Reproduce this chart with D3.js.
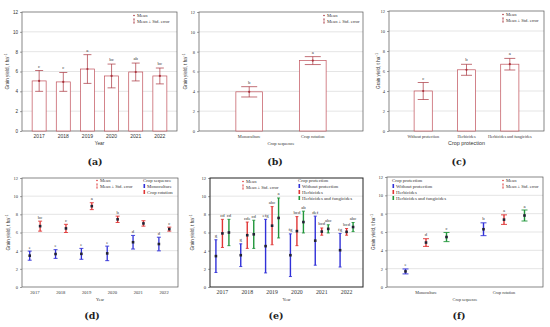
<!DOCTYPE html>
<html><head><meta charset="utf-8">
<script src="https://cdn.jsdelivr.net/npm/d3@7"></script>
<style>body{margin:0;background:#fff}svg{display:block}</style>
</head><body>
<svg id="c" width="550" height="327"></svg>
<script>
const yTicks = [0, 2, 4, 6, 8, 10, 12];
// (a) year
const years = ["2017", "2018", "2019", "2020", "2021", "2022"];
const aMean = [5.05, 4.95, 6.25, 5.55, 5.95, 5.55];
const aSE = [1.05, 0.95, 1.45, 1.2, 0.9, 0.8];
const aLetters = ["c", "c", "a", "bc", "ab", "bc"];
// (b) crop sequence
const seqCats = ["Monoculture", "Crop rotation"];
const bMean = [3.95, 7.1];
const bSE = [0.52, 0.4];
const bLetters = ["b", "a"];
// (c) crop protection
const protCats = ["Without protection", "Herbicides", "Herbicides and fungicides"];
const cMean = [4.0, 6.12, 6.68];
const cSE = [0.85, 0.55, 0.58];
const cLetters = ["c", "b", "a"];
// (d) year x crop sequence
const dMono = [3.45, 3.63, 3.65, 3.7, 4.93, 4.73];
const dMonoSE = [0.5, 0.48, 0.6, 0.8, 0.75, 0.75];
const dMonoLetters = ["e", "e", "e", "e", "d", "d"];
const dRot = [6.7, 6.45, 8.9, 7.45, 7.0, 6.37];
const dRotSE = [0.55, 0.45, 0.38, 0.35, 0.3, 0.22];
const dRotLetters = ["bc", "c", "a", "b", "", "c"];
// (e) year x crop protection
const eWP = [3.4, 3.5, 4.5, 3.5, 5.1, 4.05];
const eWPSE = [1.8, 1.25, 2.95, 2.35, 2.7, 1.85];
const eWPLetters = ["g", "g", "efg", "fg", "def", "fg"];
const eH = [5.9, 5.7, 6.75, 6.15, 6.1, 6.07];
const eHSE = [1.55, 1.45, 2.1, 1.6, 0.4, 0.37];
const eHLetters = ["cd", "cde", "abc", "bcd", "bcd", "bcd"];
const eHF = [6.0, 5.8, 7.6, 7.15, 6.4, 6.6];
const eHFSE = [1.45, 1.55, 2.2, 1.2, 0.45, 0.5];
const eHFLetters = ["cd", "cd", "a", "ab", "abc", "abc"];
// (f) crop sequence x crop protection
const fWP = [1.7, 6.3];
const fWPSE = [0.27, 0.7];
const fWPLetters = ["e", "b"];
const fH = [4.85, 7.35];
const fHSE = [0.42, 0.52];
const fHLetters = ["d", "a"];
const fHF = [5.45, 7.8];
const fHFSE = [0.5, 0.6];
const fHFLetters = ["c", "a"];

const svg = d3.select("#c");
const DARK = "#a8323c", BAR = "#c0505a";
const BLUE = "#3030d8", RED = "#e03535", GREEN = "#20963a";
const SERIF = "Liberation Serif, serif", SANS = "Liberation Sans, Arial, sans-serif";

function frame(g, P, yScale, opts) {
  g.selectAll(".grid").data(yTicks.filter(t => t > 0 && t < 12)).join("line")
    .attr("x1", P.x0).attr("x2", P.x1).attr("y1", d => yScale(d)).attr("y2", d => yScale(d))
    .attr("stroke", "#d4d4d4").attr("stroke-width", 0.6);
  const ax = g.append("g").attr("transform", `translate(${P.x0},0)`)
    .call(d3.axisLeft(yScale).tickValues(yTicks).tickSize(2).tickPadding(2).tickFormat(opts.tickFmt || d3.format("d")));
  ax.select(".domain").remove();
  ax.selectAll("line").attr("stroke", "#444").attr("stroke-width", 0.5);
  ax.selectAll("text").attr("font-family", opts.tickFont || SERIF).attr("font-size", opts.tickSize || 4.5).attr("fill", "#333");
  g.append("rect").attr("x", P.x0).attr("y", P.y0).attr("width", P.x1 - P.x0).attr("height", P.y1 - P.y0)
    .attr("fill", "none").attr("stroke", opts.frameColor || "#555").attr("stroke-width", opts.frameW || 0.7);
  const yt = g.append("text").attr("transform", `translate(${opts.ytx},${(P.y0 + P.y1) / 2}) rotate(-90)`)
    .attr("text-anchor", "middle").attr("font-family", opts.ytFont || SANS).attr("font-size", opts.ytSize || 4.6).attr("fill", "#333");
  yt.append("tspan").text("Grain yield, t ha");
  yt.append("tspan").text("−1").attr("font-size", (opts.ytSize || 4.6) * 0.7).attr("dy", -2);
}

function xLabels(g, cats, xs, y, font, size) {
  g.selectAll(".xl").data(cats).join("text")
    .attr("x", (d, i) => xs(d, i)).attr("y", y).attr("text-anchor", "middle")
    .attr("font-family", font).attr("font-size", size).attr("fill", "#333").text(d => d);
}

function xTitle(g, text, x, y, font, size) {
  g.append("text").attr("x", x).attr("y", y).attr("text-anchor", "middle")
    .attr("font-family", font).attr("font-size", size).attr("fill", "#333").text(text);
}

function meanLegend(g, x, y, color) {
  g.append("circle").attr("cx", x).attr("cy", y - 1.5).attr("r", 0.8).attr("fill", color);
  g.append("text").attr("x", x + 3).attr("y", y).attr("font-family", SERIF).attr("font-size", 4.6).attr("fill", "#333").text("Mean");
  const yy = y + 6;
  g.append("line").attr("x1", x).attr("x2", x).attr("y1", yy - 4).attr("y2", yy).attr("stroke", color).attr("stroke-width", 0.6);
  g.append("line").attr("x1", x - 1).attr("x2", x + 1).attr("y1", yy - 4).attr("y2", yy - 4).attr("stroke", color).attr("stroke-width", 0.6);
  g.append("line").attr("x1", x - 1).attr("x2", x + 1).attr("y1", yy).attr("y2", yy).attr("stroke", color).attr("stroke-width", 0.6);
  g.append("text").attr("x", x + 3).attr("y", yy).attr("font-family", SERIF).attr("font-size", 4.6).attr("fill", "#333").text("Mean ± Std. error");
}

function groupLegend(g, x, y, title, names, colors) {
  g.append("text").attr("x", x).attr("y", y).attr("font-family", SERIF).attr("font-size", 4.8).attr("fill", "#333").text(title);
  names.forEach((n, i) => {
    const yy = y + 6 * (i + 1);
    g.append("rect").attr("x", x + 0.5).attr("y", yy - 4).attr("width", 1.6).attr("height", 4).attr("fill", colors[i]);
    g.append("text").attr("x", x + 4).attr("y", yy).attr("font-family", SERIF).attr("font-size", 4.8).attr("fill", "#333").text(n);
  });
}

function barPanel(P, cats, means, ses, letters, capW, opts) {
  const g = svg.append("g");
  const y = d3.scaleLinear().domain([0, 12]).range([P.y1, P.y0]);
  const x = d3.scaleBand().domain(cats).range([P.x0, P.x1]).padding(opts.pad);
  frame(g, P, y, opts);
  const data = cats.map((c, i) => ({c, m: means[i], s: ses[i], l: letters[i]}));
  g.selectAll(".bar").data(data).join("rect")
    .attr("x", d => x(d.c)).attr("width", x.bandwidth()).attr("y", d => y(d.m)).attr("height", d => y(0) - y(d.m))
    .attr("fill", "#fff").attr("stroke", BAR).attr("stroke-width", 0.7);
  const cx = d => x(d.c) + x.bandwidth() / 2;
  g.selectAll(".eb").data(data).join("line").attr("x1", cx).attr("x2", cx)
    .attr("y1", d => y(d.m - d.s)).attr("y2", d => y(d.m + d.s)).attr("stroke", DARK).attr("stroke-width", 0.7);
  ["-", "+"].forEach(sg => {
    g.selectAll(".cap" + (sg === "+" ? "p" : "m")).data(data).join("line")
      .attr("x1", d => cx(d) - capW / 2).attr("x2", d => cx(d) + capW / 2)
      .attr("y1", d => y(sg === "+" ? d.m + d.s : d.m - d.s)).attr("y2", d => y(sg === "+" ? d.m + d.s : d.m - d.s))
      .attr("stroke", DARK).attr("stroke-width", 0.7);
  });
  g.selectAll(".mp").data(data).join("circle").attr("cx", cx).attr("cy", d => y(d.m)).attr("r", 1.1).attr("fill", DARK);
  g.selectAll(".lt").data(data).join("text").attr("x", cx).attr("y", d => y(d.m + d.s) - 3)
    .attr("text-anchor", "middle").attr("font-family", SERIF).attr("font-size", 4.8).attr("fill", "#333").text(d => d.l);
  xLabels(g, cats, d => x(d) + x.bandwidth() / 2, P.y1 + 6.5, opts.xlFont, opts.xlSize);
  xTitle(g, opts.xTitle, (P.x0 + P.x1) / 2, P.y1 + 14, opts.xtFont, opts.xtSize);
  meanLegend(g, opts.legX, P.y0 + 5, DARK);
  return g;
}

function pointPanel(P, cats, series, opts) {
  const g = svg.append("g");
  const y = d3.scaleLinear().domain([0, 12]).range([P.y1, P.y0]);
  const x = d3.scaleBand().domain(cats).range([P.dx0, P.dx1]);
  const off = d3.scalePoint().domain(series.map(s => s.name)).range([-opts.spread, opts.spread]);
  frame(g, P, y, opts);
  series.forEach(s => {
    const data = cats.map((c, i) => ({c, m: s.mean[i], e: s.se[i], l: s.letters[i]}));
    const cx = d => x(d.c) + x.bandwidth() / 2 + off(s.name);
    g.selectAll(null).data(data).join("line").attr("x1", cx).attr("x2", cx)
      .attr("y1", d => y(d.m - d.e)).attr("y2", d => y(d.m + d.e)).attr("stroke", s.color).attr("stroke-width", opts.ebW);
    [1, -1].forEach(sg => {
      g.selectAll(null).data(data).join("line")
        .attr("x1", d => cx(d) - opts.capW / 2).attr("x2", d => cx(d) + opts.capW / 2)
        .attr("y1", d => y(d.m + sg * d.e)).attr("y2", d => y(d.m + sg * d.e))
        .attr("stroke", s.color).attr("stroke-width", 0.9);
    });
    g.selectAll(null).data(data).join("rect").attr("x", d => cx(d) - 1.3).attr("y", d => y(d.m) - 1.3)
      .attr("width", 2.6).attr("height", 2.6).attr("fill", s.mcolor || "#223");
    g.selectAll(null).data(data).join("text").attr("x", cx).attr("y", d => y(d.m + d.e) - 2.5)
      .attr("text-anchor", "middle").attr("font-family", SERIF).attr("font-size", 4.8).attr("fill", "#333").text(d => d.l);
  });
  xLabels(g, cats, d => x(d) + x.bandwidth() / 2 + (opts.labShift || 0), P.y1 + 7, opts.xlFont, opts.xlSize);
  xTitle(g, opts.xTitle, (P.x0 + P.x1) / 2, P.y1 + 14, opts.xtFont, opts.xtSize);
  return g;
}

// (a)
barPanel({x0: 22, x1: 177, y0: 12, y1: 131}, years, aMean, aSE, aLetters, 8,
  {pad: 0.42, ytx: 9, tickFont: SANS, tickSize: 4.6, xlFont: SANS, xlSize: 5, xTitle: "Year", xtFont: SANS, xtSize: 4.8, legX: 134});
// (b)
barPanel({x0: 199, x1: 363, y0: 12, y1: 131}, seqCats, bMean, bSE, bLetters, 16,
  {pad: 0.58, ytx: 187, xlFont: SERIF, xlSize: 4.4, xTitle: "Crop sequence", xtFont: SERIF, xtSize: 4.6, legX: 324});
// (c)
barPanel({x0: 389, x1: 544, y0: 11, y1: 131}, protCats, cMean, cSE, cLetters, 11,
  {pad: 0.58, ytx: 380, xlFont: SERIF, xlSize: 4.2, xTitle: "Crop protection", xtFont: SANS, xtSize: 5.4, legX: 503});

// (d)
const gd = pointPanel({x0: 22, x1: 178, y0: 178, y1: 287, dx0: 22, dx1: 177}, years, [
  {name: "Monoculture", mean: dMono, se: dMonoSE, letters: dMonoLetters, color: BLUE},
  {name: "Crop rotation", mean: dRot, se: dRotSE, letters: dRotLetters, color: RED}
], {spread: 5.2, capW: 4, ebW: 1.3, ytx: 10, xlFont: SERIF, xlSize: 4.6, xTitle: "Year", xtFont: SERIF, xtSize: 4.4});
meanLegend(gd, 97, 182, RED);
groupLegend(gd, 143, 182, "Crop sequence", ["Monoculture", "Crop rotation"], [BLUE, RED]);

// (e)
const ge = pointPanel({x0: 210, x1: 363, y0: 178, y1: 287, dx0: 210, dx1: 359}, years, [
  {name: "Without protection", mean: eWP, se: eWPSE, letters: eWPLetters, color: BLUE},
  {name: "Herbicides", mean: eH, se: eHSE, letters: eHLetters, color: RED},
  {name: "Herbicides and fungicides", mean: eHF, se: eHFSE, letters: eHFLetters, color: GREEN}
], {spread: 6.5, capW: 3, ebW: 1.4, ytx: 194, frameColor: "#222", frameW: 1, xlFont: SERIF, xlSize: 5.8, xTitle: "Year", xtFont: SERIF, xtSize: 4.4, tickSize: 4.6});
meanLegend(ge, 243, 183, RED);
groupLegend(ge, 298, 182, "Crop protection", ["Without protection", "Herbicides", "Herbicides and fungicides"], [BLUE, RED, GREEN]);

// (f)
const gf = pointPanel({x0: 387, x1: 543, y0: 177, y1: 287, dx0: 387, dx1: 543}, seqCats, [
  {name: "Without protection", mean: fWP, se: fWPSE, letters: fWPLetters, color: BLUE},
  {name: "Herbicides", mean: fH, se: fHSE, letters: fHLetters, color: RED},
  {name: "Herbicides and fungicides", mean: fHF, se: fHFSE, letters: fHFLetters, color: GREEN}
], {spread: 20.5, capW: 6, ebW: 1.4, ytx: 375, xlFont: SERIF, xlSize: 4.2, xTitle: "Crop sequence", xtFont: SERIF, xtSize: 4.2});
meanLegend(gf, 503, 182, RED);
groupLegend(gf, 392, 182, "Crop protection", ["Without protection", "Herbicides", "Herbicides and fungicides"], [BLUE, RED, GREEN]);

// panel labels
const labs = [["(a)", 95, 165], ["(b)", 275, 165], ["(c)", 459, 165], ["(d)", 92, 319], ["(e)", 276, 319], ["(f)", 459, 319]];
svg.selectAll(".pl").data(labs).join("text").attr("x", d => d[1]).attr("y", d => d[2]).attr("text-anchor", "middle")
  .attr("font-family", "DejaVu Serif, serif").attr("font-weight", "bold").attr("font-size", 9.5).attr("fill", "#222").text(d => d[0]);
</script>
</body></html>
